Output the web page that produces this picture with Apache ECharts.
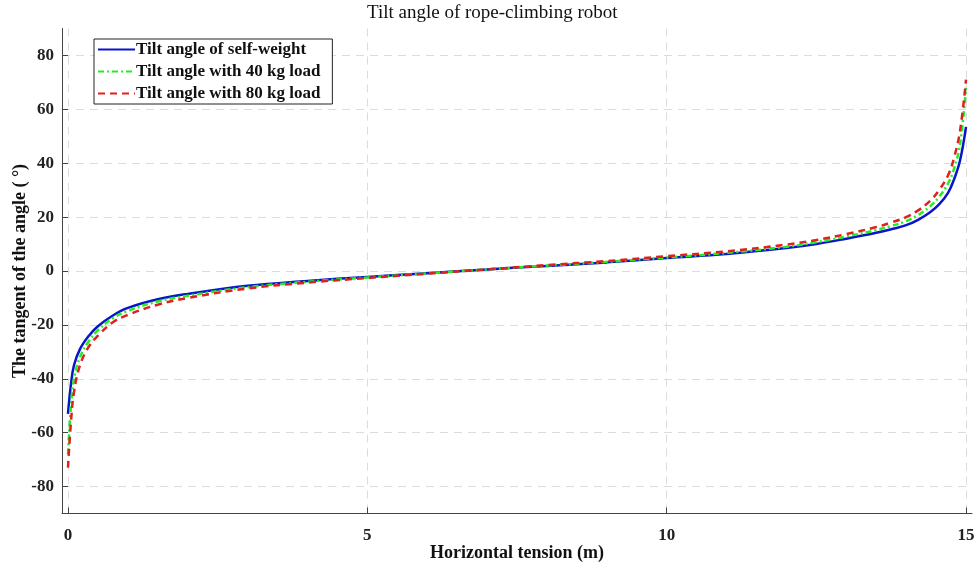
<!DOCTYPE html>
<html>
<head>
<meta charset="utf-8">
<script src="https://cdn.jsdelivr.net/npm/echarts@6/dist/echarts.min.js"></script>
<style>
  html, body { margin: 0; padding: 0; background: #fff; }
  #main { width: 977px; height: 566px; }
</style>
</head>
<body>
<div id="main"></div>
<script>
// horizontal tension samples (denser near the ends)
var tension = [0, 0.05, 0.1, 0.2, 0.35, 0.5, 0.75, 1, 1.5, 2, 3, 4, 5, 6, 7, 8, 9, 10, 11, 12, 12.5, 13, 13.5, 13.75, 14, 14.2, 14.4, 14.55, 14.7, 14.8, 14.9, 15];
var selfWeight = [-53, -42, -35, -29, -24, -20.5, -16.5, -13.7, -10.5, -8.5, -5.5, -3.7, -2.2, -0.8, 0.6, 1.9, 3.2, 4.8, 6.3, 8.5, 10, 12, 14.2, 15.5, 17, 19, 21.8, 24.7, 29, 34, 41, 53.5];
var load40 = [-68, -50, -40, -32, -26, -22, -17.5, -14.8, -11.3, -9.2, -6, -4, -2.4, -0.9, 0.6, 2, 3.4, 5, 6.7, 9, 10.7, 12.8, 15.2, 16.7, 18.5, 20.8, 24, 27.5, 32.5, 38, 47, 68];
var load80 = [-73, -56, -45, -35, -28, -24, -19, -16.3, -12.5, -10, -6.5, -4.3, -2.6, -1, 0.6, 2.2, 3.7, 5.5, 7.3, 9.8, 11.5, 13.7, 16.3, 18, 20, 22.5, 26, 30, 35.5, 42, 52, 71];
var xTicks = [0, 5, 10, 15];
var yTicks = [-80, -60, -40, -20, 0, 20, 40, 60, 80];
var seriesNames = ['Tilt angle of self-weight', 'Tilt angle with 40 kg load', 'Tilt angle with 80 kg load'];

var serif = 'Liberation Serif';

function pairs(ys) {
    var out = [];
    for (var i = 0; i < tension.length; i++) {
        out.push([tension[i], ys[i]]);
    }
    return out;
}

function makeSeries(name, ys, color, dash) {
    return {
        name: name,
        type: 'line',
        data: pairs(ys),
        showSymbol: false,
        symbol: 'none',
        smooth: 0.4,
        lineStyle: { color: color, width: 2.5, type: dash },
        itemStyle: { color: color }
    };
}

var chart = echarts.init(document.getElementById('main'));
var option = {
    animation: false,
    backgroundColor: '#fff',
    graphic: [{
        type: 'text',
        left: 517 - 150,
        top: 4,
        style: {
            text: 'Tilt angle of rope-climbing robot',
            font: '19px "Liberation Serif"',
            fill: '#111',
            width: 300,
            align: 'center'
        }
    }],
    legend: {
        orient: 'vertical',
        left: 94,
        top: 39,
        padding: [2, 12, 2, 3],
        itemGap: 5,
        itemWidth: 37,
        itemHeight: 16,
        backgroundColor: '#fff',
        borderColor: '#222',
        borderWidth: 1,
        borderRadius: 0,
        itemStyle: { opacity: 0 },
        textStyle: { fontFamily: serif, fontWeight: 'bold', fontSize: 17, color: '#111', padding: [0, 0, 0, -4] },
        data: seriesNames
    },
    grid: { left: 62, right: 5, top: 28.5, bottom: 52.5, containLabel: false, outerBoundsMode: 'none' },
    xAxis: {
        type: 'value',
        min: -0.1,
        max: 15.1,
        name: 'Horizontal tension (m)',
        nameLocation: 'middle',
        nameGap: 31,
        nameMoveOverlap: false,
        nameTextStyle: { fontFamily: serif, fontWeight: 'bold', fontSize: 18, color: '#111' },
        axisLine: { show: true, onZero: false, lineStyle: { color: '#444', width: 1 } },
        axisTick: { show: true, inside: true, length: 6, customValues: xTicks, lineStyle: { color: '#444' } },
        axisLabel: { customValues: xTicks, margin: 14, fontFamily: serif, fontWeight: 'bold', fontSize: 17, color: '#222' },
        splitLine: { show: true, lineStyle: { color: '#dcdcdc', type: [8, 6], width: 1 } }
    },
    yAxis: {
        type: 'value',
        min: -90,
        max: 90,
        name: 'The tangent of the angle ( °)',
        nameLocation: 'middle',
        nameGap: 33,
        nameMoveOverlap: false,
        nameTextStyle: { fontFamily: serif, fontWeight: 'bold', fontSize: 18, color: '#111' },
        axisLine: { show: true, onZero: false, lineStyle: { color: '#444', width: 1 } },
        axisTick: { show: true, inside: true, length: 6, customValues: yTicks, lineStyle: { color: '#444' } },
        axisLabel: { customValues: yTicks, margin: 8, fontFamily: serif, fontWeight: 'bold', fontSize: 17, color: '#222' },
        splitLine: { show: true, lineStyle: { color: '#dcdcdc', type: [8, 6], width: 1 } }
    },
    series: [
        makeSeries(seriesNames[0], selfWeight, '#0a14c8', 'solid'),
        makeSeries(seriesNames[1], load40, '#22ee22', [6, 3, 2, 3]),
        makeSeries(seriesNames[2], load80, '#e0201e', [7, 5])
    ]
};
chart.setOption(option);
</script>
</body>
</html>
